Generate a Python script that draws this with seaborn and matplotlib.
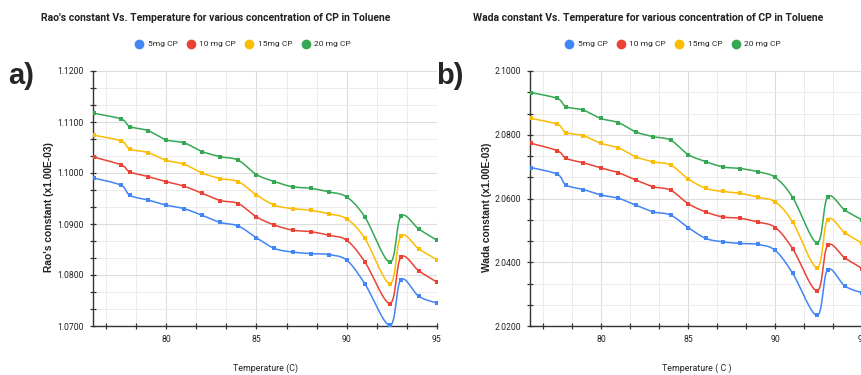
import numpy as np
import matplotlib
matplotlib.use("Agg")
import matplotlib.pyplot as plt
from matplotlib.ticker import MultipleLocator, FixedLocator
from matplotlib.lines import Line2D
import seaborn as sns

# Data
temperature = [76, 77.5, 78, 79, 80, 81, 82, 83, 84, 85, 86, 87, 88, 89, 90, 91, 92.4, 93, 94, 95]
series = ["5mg CP", "10 mg CP", "15mg CP", "20 mg CP"]
colors = ["#4285F4", "#EA4335", "#FBBC04", "#34A853"]

rao_5mg = [1.0990, 1.0976, 1.0956, 1.0947, 1.0937, 1.0930, 1.0917, 1.0903, 1.0896, 1.0873,
           1.0852, 1.0845, 1.0842, 1.0840, 1.0829, 1.0783, 1.0701, 1.0791, 1.0758, 1.0745]
rao_10mg = [1.1031, 1.1016, 1.1002, 1.0993, 1.0983, 1.0974, 1.0960, 1.0946, 1.0940, 1.0914,
            1.0898, 1.0888, 1.0885, 1.0878, 1.0868, 1.0826, 1.0744, 1.0835, 1.0808, 1.0786]
rao_15mg = [1.1074, 1.1063, 1.1047, 1.1040, 1.1025, 1.1017, 1.1000, 1.0989, 1.0983, 1.0957,
            1.0937, 1.0930, 1.0927, 1.0920, 1.0910, 1.0872, 1.0783, 1.0876, 1.0851, 1.0830]
rao_20mg = [1.1117, 1.1106, 1.1091, 1.1083, 1.1065, 1.1059, 1.1042, 1.1032, 1.1025, 1.0997,
            1.0983, 1.0973, 1.0970, 1.0963, 1.0953, 1.0914, 1.0825, 1.0915, 1.0890, 1.0868]

wada_5mg = [2.0697, 2.0676, 2.0642, 2.0628, 2.0611, 2.0601, 2.0579, 2.0558, 2.0548, 2.0509,
            2.0475, 2.0464, 2.0459, 2.0456, 2.0437, 2.0365, 2.0233, 2.0377, 2.0325, 2.0304]
wada_10mg = [2.0773, 2.0750, 2.0726, 2.0712, 2.0696, 2.0681, 2.0658, 2.0637, 2.0626, 2.0584,
             2.0558, 2.0542, 2.0538, 2.0526, 2.0509, 2.0442, 2.0310, 2.0453, 2.0413, 2.0380]
wada_15mg = [2.0851, 2.0833, 2.0807, 2.0797, 2.0773, 2.0759, 2.0731, 2.0715, 2.0705, 2.0662,
             2.0632, 2.0622, 2.0616, 2.0604, 2.0589, 2.0526, 2.0383, 2.0534, 2.0492, 2.0459]
wada_20mg = [2.0932, 2.0914, 2.0888, 2.0877, 2.0851, 2.0838, 2.0809, 2.0794, 2.0783, 2.0738,
             2.0716, 2.0699, 2.0694, 2.0684, 2.0666, 2.0603, 2.0461, 2.0605, 2.0563, 2.0532]

sns.set_theme(style="white")
plt.rcParams["font.family"] = ["Roboto", "DejaVu Sans"]


def smooth(x, y, n=14):
    # Catmull-Rom curve through the points (display smoothing only)
    pts = np.column_stack([x, y])
    p = np.vstack([pts[0], pts, pts[-1]])
    out = []
    t = np.linspace(0, 1, n, endpoint=False)[:, None]
    for i in range(1, len(p) - 2):
        p0, p1, p2, p3 = p[i - 1], p[i], p[i + 1], p[i + 2]
        seg = 0.5 * (2 * p1 + (-p0 + p2) * t + (2 * p0 - 5 * p1 + 4 * p2 - p3) * t ** 2
                     + (-p0 + 3 * p1 - 3 * p2 + p3) * t ** 3)
        out.append(seg)
    out.append(pts[-1:])
    return np.vstack(out)


def draw_panel(ax, data, ylim, ystep):
    for vals, c in zip(data, colors):
        s = smooth(temperature, vals)
        sns.lineplot(x=s[:, 0], y=s[:, 1], sort=False, estimator=None, color=c, lw=1.1, ax=ax)
        sns.scatterplot(x=temperature, y=vals, color=c, marker="s", s=7, linewidth=0, ax=ax, zorder=3)
    ax.set_xlim(75.95, 95)
    ax.set_ylim(*ylim)
    ax.xaxis.set_major_locator(FixedLocator([80, 85, 90, 95]))
    ax.xaxis.set_minor_locator(MultipleLocator(5 / 3))
    ax.yaxis.set_major_locator(MultipleLocator(ystep))
    ax.yaxis.set_minor_locator(MultipleLocator(ystep / 3))
    ax.yaxis.set_major_formatter(matplotlib.ticker.FormatStrFormatter("%.4f"))
    ax.xaxis.set_major_formatter(matplotlib.ticker.FuncFormatter(lambda v, p: f"{v:.0f}"))
    ax.grid(True, which="major", color="#dcdcdc", lw=0.8)
    ax.grid(True, which="minor", color="#ececec", lw=0.7)
    ax.set_axisbelow(True)
    for side in ["top", "right"]:
        ax.spines[side].set_visible(False)
    for side in ["left", "bottom"]:
        ax.spines[side].set_color("#333333")
        ax.spines[side].set_linewidth(1.0)
    ax.tick_params(which="both", direction="inout", length=5, width=0.9, color="#333333",
                   labelsize=6.2, labelcolor="#222222", bottom=True, left=True, pad=4)
    ax.set_xlabel("")
    ax.set_ylabel("")


fig = plt.figure(figsize=(8.62, 3.75), dpi=100)
ax1 = fig.add_axes([93 / 862, 49 / 375, 344 / 862, 255 / 375])
ax2 = fig.add_axes([530.3 / 862, 49 / 375, 332.2 / 862, 255 / 375])

draw_panel(ax1, [rao_5mg, rao_10mg, rao_15mg, rao_20mg], (1.07, 1.12), 0.01)
draw_panel(ax2, [wada_5mg, wada_10mg, wada_15mg, wada_20mg], (2.02, 2.10), 0.02)

# titles
fig.text(216 / 862, 1 - 18 / 375, "Rao's constant Vs. Temperature for various concentration of CP in Toluene",
         ha="center", va="center", fontsize=7.5, fontweight="bold", color="#222222")
fig.text(648 / 862, 1 - 18 / 375, "Wada constant Vs. Temperature for various concentration of CP in Toluene",
         ha="center", va="center", fontsize=7.5, fontweight="bold", color="#222222")

# legends
handles = [Line2D([], [], marker="o", ls="", color=c, markersize=6) for c in colors]
for cx in [243 / 862, 673 / 862]:
    fig.legend(handles, series, loc="center", bbox_to_anchor=(cx, 1 - 44 / 375), ncol=4,
               frameon=False, fontsize=6.0, handletextpad=0.5, columnspacing=1.1,
               handlelength=1.0)

# panel letters
fig.text(8 / 862, 1 - 76 / 375, "a)", fontsize=21, fontweight="bold", va="center",
         family=["Liberation Sans", "DejaVu Sans"])
fig.text(436 / 862, 1 - 76 / 375, "b)", fontsize=21, fontweight="bold", va="center",
         family=["Liberation Sans", "DejaVu Sans"])

# axis labels
fig.text(49 / 862, 1 - 207 / 375, "Rao's constant (x1.00E-03)", rotation=90, ha="center", va="center",
         fontsize=7.4, fontweight="bold", color="#222222", family=["Liberation Sans", "DejaVu Sans"])
fig.text(487 / 862, 1 - 207 / 375, "Wada constant (x1.00E-03)", rotation=90, ha="center", va="center",
         fontsize=7.4, fontweight="bold", color="#222222", family=["Liberation Sans", "DejaVu Sans"])
fig.text(266 / 862, 1 - 368 / 375, "Temperature (C)", ha="center", va="center", fontsize=6.4, color="#222222")
fig.text(697 / 862, 1 - 368 / 375, "Temperature ( C )", ha="center", va="center", fontsize=6.4, color="#222222")

fig.savefig("out.png", dpi=100, facecolor="white")
